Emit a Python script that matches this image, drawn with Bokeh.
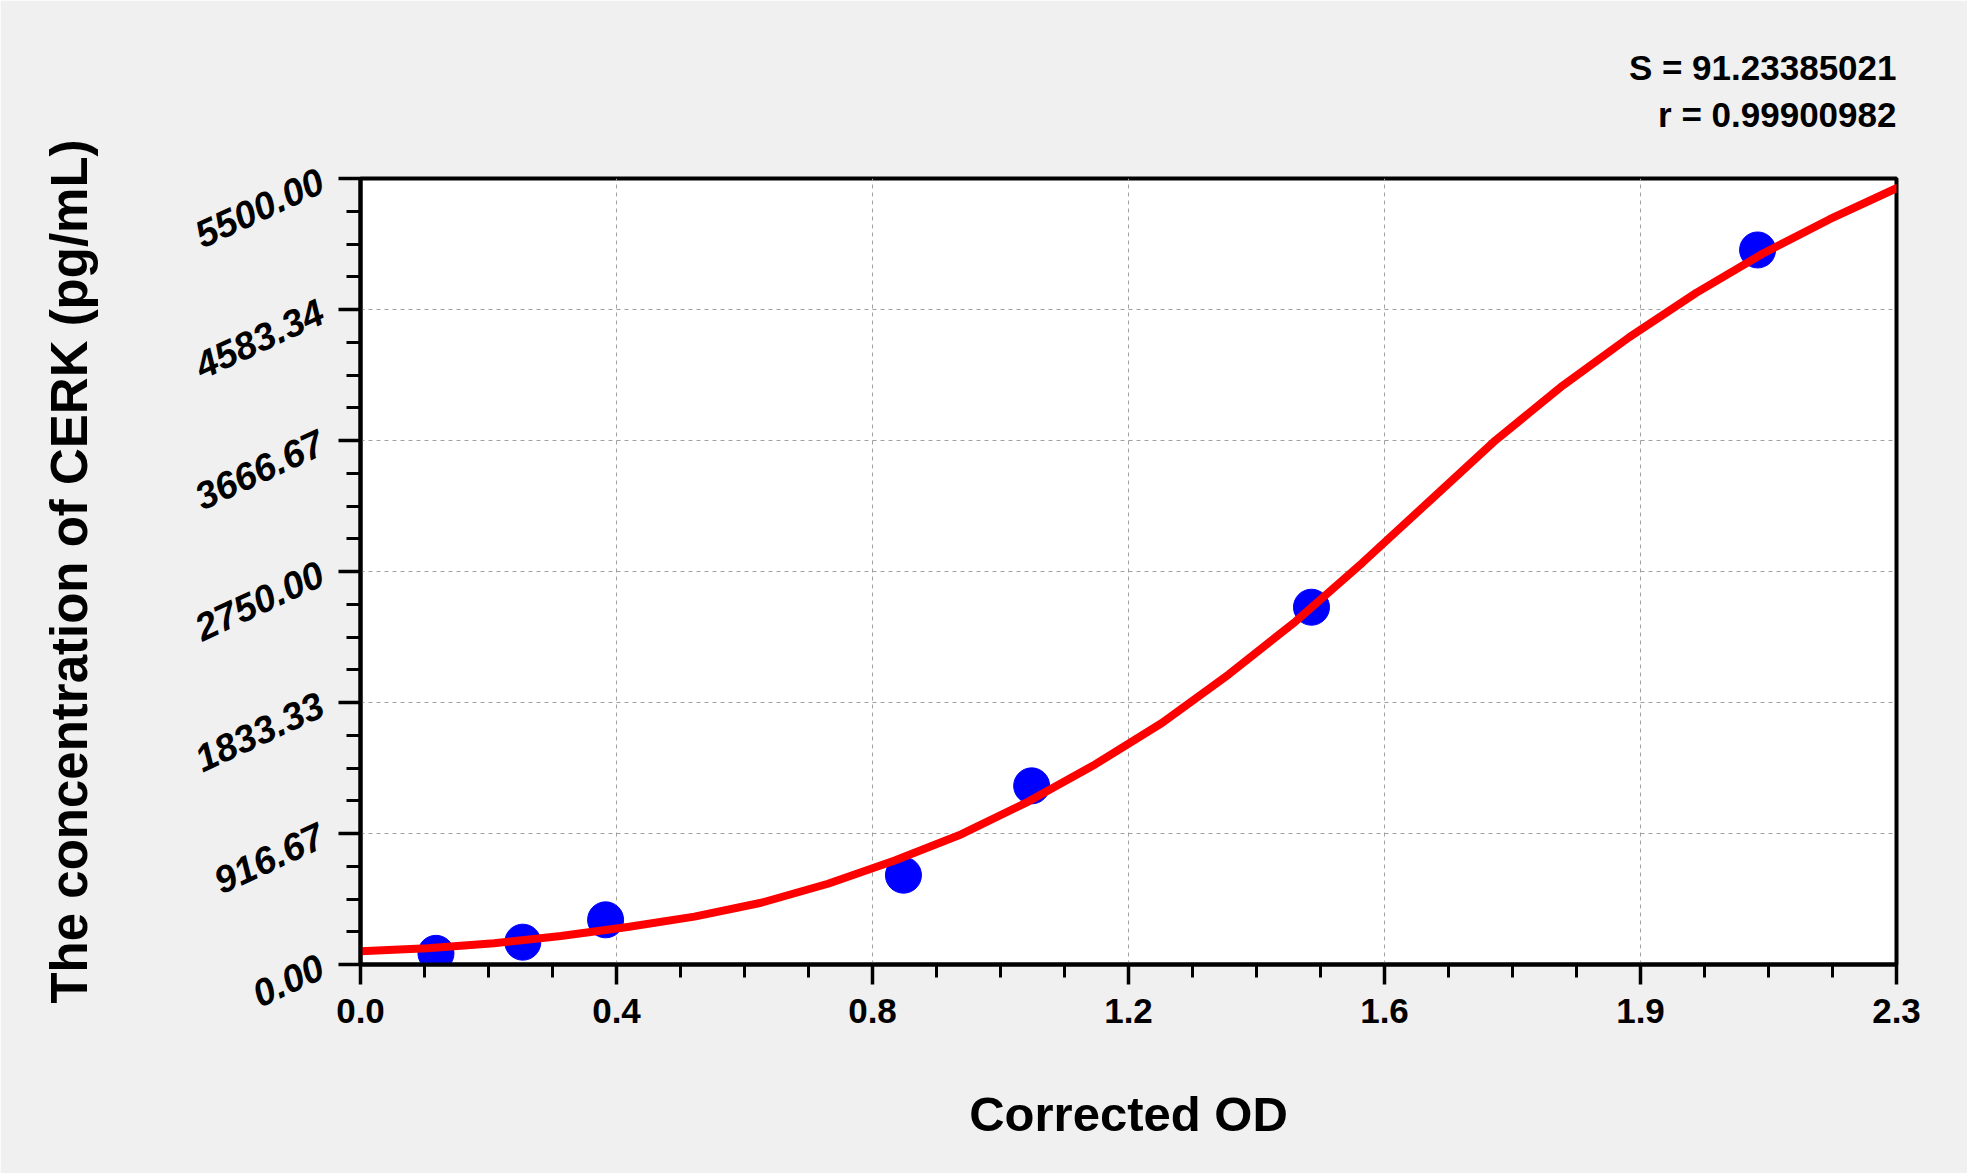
import math
from bokeh.plotting import figure
from bokeh.models import Range1d, FixedTicker, Title, ColumnDataSource
from bokeh.embed import file_html
from bokeh.resources import INLINE

# ---- data ----
od = [0.113, 0.243, 0.367, 0.813, 1.005, 1.424, 2.092]
conc = [78.125, 156.25, 312.5, 625.0, 1250.0, 2500.0, 5000.0]

# fitted curve
fit_od = [0.0, 0.1, 0.2, 0.3, 0.4, 0.5, 0.6, 0.7, 0.8, 0.9, 1.0, 1.1,
          1.2, 1.3, 1.4, 1.5, 1.6, 1.7, 1.8, 1.9, 2.0, 2.1, 2.2, 2.3]
fit_conc = [93, 114, 149, 199, 262, 335, 432, 565, 728, 912, 1140, 1400,
            1690, 2030, 2400, 2810, 3240, 3670, 4050, 4390, 4700, 4975, 5215, 5432]

x_tick_labels = ["0.0", "0.4", "0.8", "1.2", "1.6", "1.9", "2.3"]
y_tick_labels = ["0.00", "916.67", "1833.33", "2750.00", "3666.67", "4583.34", "5500.00"]

stat_s = "S = 91.23385021"
stat_r = "r = 0.99900982"

x_max = 2.3
y_max = 5500.0

FONT = "Liberation Sans"

p = figure(width=1967, height=1173,
           x_range=Range1d(0, x_max), y_range=Range1d(0, y_max),
           output_backend="svg", toolbar_location=None,
           min_border_left=360, min_border_right=71,
           min_border_top=178, min_border_bottom=209,
           background_fill_color="white", border_fill_color="#f0f0f0")

n = len(x_tick_labels) - 1
x_ticks = [x_max * i / n for i in range(n + 1)]
y_ticks = [y_max * i / n for i in range(n + 1)]
x_minor = [x_max * i / (4 * n) for i in range(4 * n + 1)]
y_minor = [y_max * i / (4 * n) for i in range(4 * n + 1)]

xt = FixedTicker(ticks=x_ticks, minor_ticks=x_minor)
yt = FixedTicker(ticks=y_ticks, minor_ticks=y_minor)

p.xaxis.ticker = xt
p.yaxis.ticker = yt
p.xaxis.major_label_overrides = {t: l for t, l in zip(x_ticks, x_tick_labels)}
p.yaxis.major_label_overrides = {t: l for t, l in zip(y_ticks, y_tick_labels)}

p.xgrid.ticker = xt
p.ygrid.ticker = yt
for g in (p.xgrid, p.ygrid):
    g.grid_line_color = "#a0a0a0"
    g.grid_line_dash = "4 4"
    g.grid_line_width = 1

for ax in (p.xaxis, p.yaxis):
    ax.axis_line_width = 4
    ax.axis_line_color = "black"
    ax.major_tick_line_width = 3.5
    ax.minor_tick_line_width = 3
    ax.major_tick_line_color = "black"
    ax.minor_tick_line_color = "black"
    ax.major_tick_in = 0
    ax.minor_tick_in = 0
    ax.major_label_text_color = "black"
    ax.major_label_text_font = FONT
    ax.axis_label_text_font = FONT
    ax.axis_label_text_font_style = "bold"
    ax.axis_label_text_color = "black"

p.xaxis.major_tick_out = 20
p.xaxis.minor_tick_out = 13
p.xaxis.major_label_text_font_size = "35px"
p.xaxis.major_label_text_font_style = "bold"
p.xaxis.major_label_standoff = 14
p.xaxis.axis_label = "Corrected OD"
p.xaxis.axis_label_text_font_size = "49px"
p.xaxis.axis_label_standoff = 61

p.yaxis.major_tick_out = 22
p.yaxis.minor_tick_out = 14
p.yaxis.major_label_text_font_size = "38px"
p.yaxis.major_label_text_font_style = "bold italic"
p.yaxis.major_label_orientation = math.radians(25)
p.yaxis.major_label_standoff = 17
p.yaxis.axis_label = "The concentration of CERK (pg/mL)"
p.yaxis.axis_label_text_font_size = "51px"
p.yaxis.axis_label_standoff = 85

p.outline_line_color = "black"
p.outline_line_width = 4

pts = ColumnDataSource(dict(x=od, y=conc))
fit = ColumnDataSource(dict(x=fit_od, y=fit_conc))
p.scatter("x", "y", source=pts, size=36, color="#0000ff", line_color="#0000ff")
p.line("x", "y", source=fit, line_color="#ff0000", line_width=8, line_cap="round", line_join="round")

# the r line is 0.834 em narrower than the S line; three no-break spaces
# (0.278 em each) right-align it under the S line
stats = Title(text=stat_s + "\n" + "\u00a0" * 3 + stat_r, align="right", text_font=FONT,
              text_font_size="35px", text_font_style="bold", text_color="black",
              text_line_height=1.2, standoff=89)
p.add_layout(stats, "above")

open("out.html", "w").write(file_html(p, INLINE))
